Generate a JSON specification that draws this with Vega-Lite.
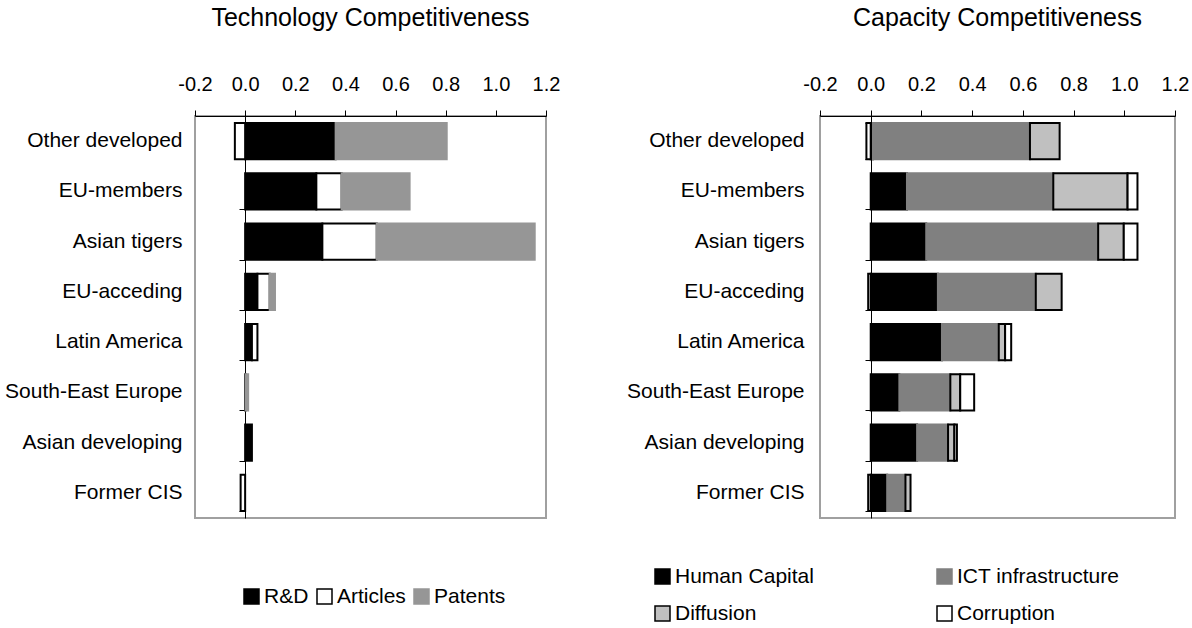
{
  "$schema": "https://vega.github.io/schema/vega-lite/v6.json",
  "background": "white",
  "padding": {"left": 3, "top": 5, "right": 5, "bottom": 5},
  "config": {
    "font": "Liberation Sans",
    "view": {"stroke": "#a0a0a0", "strokeWidth": 2},
    "axis": {"labelFont": "Liberation Sans", "labelFontSize": 20, "labelColor": "black", "grid": false, "title": null},
    "title": {"font": "Liberation Sans", "fontSize": 25, "fontWeight": "normal", "color": "black"},
    "legend": {"labelFont": "Liberation Sans", "labelFontSize": 21, "labelColor": "black", "labelLimit": 400, "symbolType": "square", "symbolSize": 225, "symbolStrokeWidth": 1.5, "labelOffset": 2, "padding": 0, "title": null}
  },
  "spacing": 64,
  "resolve": {
    "scale": {"color": "independent", "stroke": "independent", "x": "independent", "y": "independent"},
    "legend": {"color": "independent", "stroke": "independent"}
  },
  "hconcat": [
    {
      "width": 351,
      "height": 402,
      "title": {"text": "Technology Competitiveness", "offset": 43},
      "data": {"values": [
        {"region": "Other developed", "component": "R&D", "value": 0.361},
        {"region": "Other developed", "component": "Articles", "value": -0.041},
        {"region": "Other developed", "component": "Patents", "value": 0.443},
        {"region": "EU-members", "component": "R&D", "value": 0.284},
        {"region": "EU-members", "component": "Articles", "value": 0.101},
        {"region": "EU-members", "component": "Patents", "value": 0.271},
        {"region": "Asian tigers", "component": "R&D", "value": 0.308},
        {"region": "Asian tigers", "component": "Articles", "value": 0.217},
        {"region": "Asian tigers", "component": "Patents", "value": 0.630},
        {"region": "EU-acceding", "component": "R&D", "value": 0.049},
        {"region": "EU-acceding", "component": "Articles", "value": 0.049},
        {"region": "EU-acceding", "component": "Patents", "value": 0.021},
        {"region": "Latin America", "component": "R&D", "value": 0.027},
        {"region": "Latin America", "component": "Articles", "value": 0.022},
        {"region": "South-East Europe", "component": "R&D", "value": 0.002},
        {"region": "South-East Europe", "component": "Patents", "value": 0.010},
        {"region": "Asian developing", "component": "R&D", "value": 0.027},
        {"region": "Former CIS", "component": "Articles", "value": -0.018}
      ]},
      "transform": [
        {"calculate": "indexof(['R&D', 'Articles', 'Patents'], datum.component)", "as": "stackRank"}
      ],
      "layer": [
        {
          "mark": {"type": "bar", "strokeWidth": 2},
          "encoding": {
            "y": {"field": "region", "type": "nominal",
              "sort": ["Other developed", "EU-members", "Asian tigers", "EU-acceding", "Latin America", "South-East Europe", "Asian developing", "Former CIS"],
              "scale": {"paddingInner": 0.28, "paddingOuter": 0.14},
              "axis": {"orient": "left", "domain": false, "ticks": false, "labelPadding": 13, "labelFontSize": 21, "title": null}},
            "x": {"field": "value", "type": "quantitative",
              "scale": {"domain": [-0.2, 1.2], "nice": false, "zero": false},
              "axis": {"orient": "top", "values": [-0.2, 0, 0.2, 0.4, 0.6, 0.8, 1.0, 1.2], "format": ".1f", "labelExpr": "replace(datum.label, '\u2212', '-')", "labelOverlap": false, "labelFlush": false, "tickSize": 6, "labelPadding": 16, "domainColor": "black", "tickColor": "black", "title": null}},
            "color": {"field": "component", "type": "nominal", "sort": ["R&D", "Articles", "Patents"],
              "scale": {"domain": ["R&D", "Articles", "Patents"], "range": ["#000000", "#ffffff", "#969696"]},
              "legend": {"orient": "none", "direction": "horizontal", "legendX": 46, "legendY": 470, "columnPadding": 5}},
            "stroke": {"field": "component", "type": "nominal", "sort": ["R&D", "Articles", "Patents"],
              "scale": {"domain": ["R&D", "Articles", "Patents"], "range": ["#000000", "#000000", "#969696"]},
              "legend": {"orient": "none", "direction": "horizontal", "legendX": 46, "legendY": 470, "columnPadding": 5}},
            "order": {"field": "stackRank", "type": "quantitative"}
          }
        },
        {
          "mark": {"type": "point", "opacity": 0},
          "encoding": {
            "y": {"field": "region", "type": "nominal",
              "sort": ["Other developed", "EU-members", "Asian tigers", "EU-acceding", "Latin America", "South-East Europe", "Asian developing", "Former CIS"],
              "axis": {"orient": "left", "labels": false, "domain": true, "domainColor": "black", "ticks": true, "tickBand": "extent", "tickSize": 6, "tickColor": "black", "offset": -50, "title": null}},
            "x": {"datum": 0}
          }
        }
      ],
      "resolve": {"axis": {"y": "independent"}}
    },
    {
      "width": 355,
      "height": 402,
      "title": {"text": "Capacity Competitiveness", "offset": 43},
      "data": {"values": [
        {"region": "Other developed", "component": "Human Capital", "value": 0.009},
        {"region": "Other developed", "component": "ICT infrastructure", "value": 0.619},
        {"region": "Other developed", "component": "Diffusion", "value": 0.117},
        {"region": "Other developed", "component": "Corruption", "value": -0.017},
        {"region": "EU-members", "component": "Human Capital", "value": 0.143},
        {"region": "EU-members", "component": "ICT infrastructure", "value": 0.577},
        {"region": "EU-members", "component": "Diffusion", "value": 0.293},
        {"region": "EU-members", "component": "Corruption", "value": 0.039},
        {"region": "Asian tigers", "component": "Human Capital", "value": 0.219},
        {"region": "Asian tigers", "component": "ICT infrastructure", "value": 0.678},
        {"region": "Asian tigers", "component": "Diffusion", "value": 0.101},
        {"region": "Asian tigers", "component": "Corruption", "value": 0.054},
        {"region": "EU-acceding", "component": "Human Capital", "value": 0.265},
        {"region": "EU-acceding", "component": "ICT infrastructure", "value": 0.386},
        {"region": "EU-acceding", "component": "Diffusion", "value": 0.102},
        {"region": "EU-acceding", "component": "Corruption", "value": -0.01},
        {"region": "Latin America", "component": "Human Capital", "value": 0.281},
        {"region": "Latin America", "component": "ICT infrastructure", "value": 0.224},
        {"region": "Latin America", "component": "Diffusion", "value": 0.025},
        {"region": "Latin America", "component": "Corruption", "value": 0.024},
        {"region": "South-East Europe", "component": "Human Capital", "value": 0.113},
        {"region": "South-East Europe", "component": "ICT infrastructure", "value": 0.201},
        {"region": "South-East Europe", "component": "Diffusion", "value": 0.039},
        {"region": "South-East Europe", "component": "Corruption", "value": 0.055},
        {"region": "Asian developing", "component": "Human Capital", "value": 0.183},
        {"region": "Asian developing", "component": "ICT infrastructure", "value": 0.122},
        {"region": "Asian developing", "component": "Diffusion", "value": 0.025},
        {"region": "Asian developing", "component": "Corruption", "value": 0.01},
        {"region": "Former CIS", "component": "Human Capital", "value": 0.065},
        {"region": "Former CIS", "component": "ICT infrastructure", "value": 0.072},
        {"region": "Former CIS", "component": "Diffusion", "value": 0.02},
        {"region": "Former CIS", "component": "Corruption", "value": -0.01}
      ]},
      "transform": [
        {"calculate": "indexof(['Human Capital', 'ICT infrastructure', 'Diffusion', 'Corruption'], datum.component)", "as": "stackRank"}
      ],
      "layer": [
        {
          "mark": {"type": "bar", "strokeWidth": 2},
          "encoding": {
            "y": {"field": "region", "type": "nominal",
              "sort": ["Other developed", "EU-members", "Asian tigers", "EU-acceding", "Latin America", "South-East Europe", "Asian developing", "Former CIS"],
              "scale": {"paddingInner": 0.28, "paddingOuter": 0.14},
              "axis": {"orient": "left", "domain": false, "ticks": false, "labelPadding": 16, "labelFontSize": 21, "title": null}},
            "x": {"field": "value", "type": "quantitative",
              "scale": {"domain": [-0.2, 1.2], "nice": false, "zero": false},
              "axis": {"orient": "top", "values": [-0.2, 0, 0.2, 0.4, 0.6, 0.8, 1.0, 1.2], "format": ".1f", "labelExpr": "replace(datum.label, '\u2212', '-')", "labelOverlap": false, "labelFlush": false, "tickSize": 6, "labelPadding": 16, "domainColor": "black", "tickColor": "black", "title": null}},
            "color": {"field": "component", "type": "nominal", "sort": ["Human Capital", "ICT infrastructure", "Diffusion", "Corruption"],
              "scale": {"domain": ["Human Capital", "ICT infrastructure", "Diffusion", "Corruption"], "range": ["#000000", "#808080", "#c0c0c0", "#ffffff"]},
              "legend": {"orient": "none", "direction": "horizontal", "columns": 2, "legendX": -168, "legendY": 450, "columnPadding": 120, "rowPadding": 15}},
            "stroke": {"field": "component", "type": "nominal", "sort": ["Human Capital", "ICT infrastructure", "Diffusion", "Corruption"],
              "scale": {"domain": ["Human Capital", "ICT infrastructure", "Diffusion", "Corruption"], "range": ["#000000", "#808080", "#000000", "#000000"]},
              "legend": {"orient": "none", "direction": "horizontal", "columns": 2, "legendX": -168, "legendY": 450, "columnPadding": 120, "rowPadding": 15}},
            "order": {"field": "stackRank", "type": "quantitative"}
          }
        },
        {
          "mark": {"type": "point", "opacity": 0},
          "encoding": {
            "y": {"field": "region", "type": "nominal",
              "sort": ["Other developed", "EU-members", "Asian tigers", "EU-acceding", "Latin America", "South-East Europe", "Asian developing", "Former CIS"],
              "axis": {"orient": "left", "labels": false, "domain": true, "domainColor": "black", "ticks": true, "tickBand": "extent", "tickSize": 6, "tickColor": "black", "offset": -51, "title": null}},
            "x": {"datum": 0}
          }
        }
      ],
      "resolve": {"axis": {"y": "independent"}}
    }
  ]
}
